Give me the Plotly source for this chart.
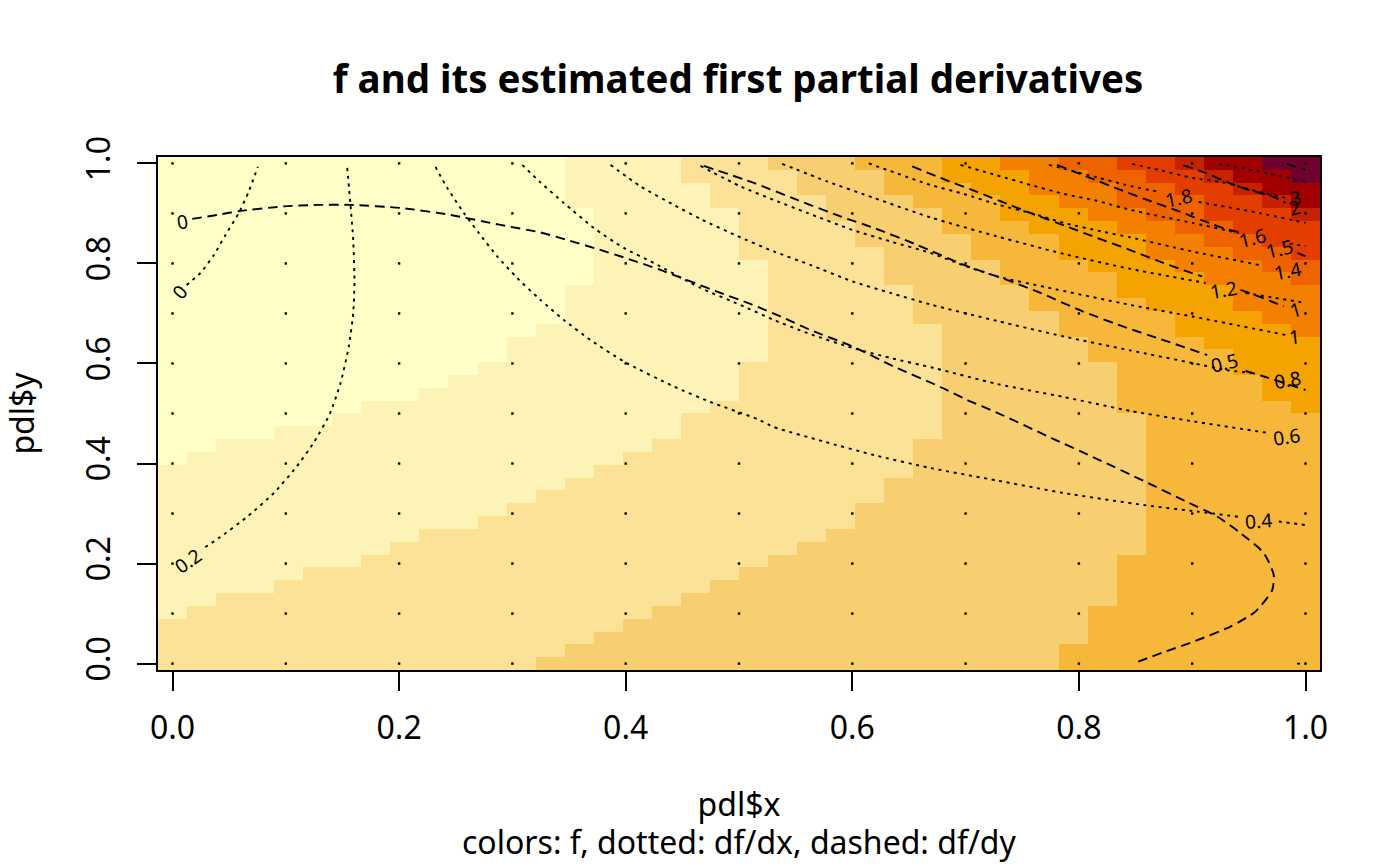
import plotly.graph_objects as go

GRID = [i / 39 for i in range(40)]
DOT_TICKS = [0.0, 0.1, 0.2, 0.3, 0.4, 0.5, 0.6, 0.7, 0.8, 0.9, 1.0]
AXIS_TICKS = [0.0, 0.2, 0.4, 0.6, 0.8, 1.0]
AXIS_LABELS = ["0.0", "0.2", "0.4", "0.6", "0.8", "1.0"]

LEVEL_COLORS = ["#FFFFC8", "#FEF3B6", "#FBE297", "#F7CE70", "#F7B73A", "#F5A300",
                "#F38000", "#EE6200", "#E43D00", "#C42200", "#A20000", "#6F0030"]

# For each column (left to right): (level of f, row where that band ends), bottom to top
F_BANDS = [
    [(3, 4), (2, 16), (1, 40)], [(3, 5), (2, 17), (1, 40)], [(3, 6), (2, 18), (1, 40)],
    [(3, 6), (2, 18), (1, 40)], [(3, 7), (2, 19), (1, 40)], [(3, 8), (2, 19), (1, 40)],
    [(3, 8), (2, 20), (1, 40)], [(3, 9), (2, 21), (1, 40)], [(3, 10), (2, 21), (1, 40)],
    [(3, 11), (2, 22), (1, 40)], [(3, 11), (2, 23), (1, 40)], [(3, 12), (2, 24), (1, 40)],
    [(3, 13), (2, 26), (1, 40)], [(4, 1), (3, 14), (2, 27), (1, 40)],
    [(4, 2), (3, 15), (2, 30), (1, 36), (2, 40)], [(4, 3), (3, 16), (2, 40)],
    [(4, 4), (3, 17), (2, 40)], [(4, 5), (3, 18), (2, 40)],
    [(4, 6), (3, 20), (2, 38), (3, 40)], [(4, 7), (3, 21), (2, 36), (3, 40)],
    [(4, 8), (3, 24), (2, 32), (3, 40)], [(4, 9), (3, 39), (4, 40)],
    [(4, 10), (3, 37), (4, 40)], [(4, 11), (3, 35), (4, 40)],
    [(4, 13), (3, 33), (4, 39), (5, 40)], [(4, 15), (3, 30), (4, 37), (5, 40)],
    [(4, 18), (3, 27), (4, 36), (5, 40)], [(4, 34), (5, 38), (6, 40)],
    [(4, 32), (5, 37), (6, 40)], [(4, 30), (5, 35), (6, 39), (7, 40)],
    [(4, 28), (5, 34), (6, 37), (7, 40)],
    [(5, 2), (4, 26), (5, 32), (6, 36), (7, 39), (8, 40)],
    [(5, 5), (4, 24), (5, 31), (6, 35), (7, 38), (8, 40)],
    [(5, 9), (4, 20), (5, 29), (6, 34), (7, 36), (8, 39), (9, 40)],
    [(5, 28), (6, 32), (7, 35), (8, 38), (9, 40)],
    [(5, 26), (6, 31), (7, 34), (8, 37), (9, 39), (10, 40)],
    [(5, 25), (6, 30), (7, 33), (8, 35), (9, 38), (10, 39), (11, 40)],
    [(5, 23), (6, 28), (7, 32), (8, 34), (9, 37), (10, 38), (11, 40)],
    [(5, 21), (6, 27), (7, 31), (8, 33), (9, 36), (10, 37), (11, 39), (12, 40)],
    [(5, 20), (6, 26), (7, 30), (8, 32), (9, 35), (10, 36), (11, 38), (12, 40)],
]

# dotted contours, df/dx
DX_A_X = [.0124, .0247, .0365, .0468, .0585, .0673, .0753]
DX_A_Y = [.757, .781, .817, .857, .901, .944, .993]
DX_B_X = [.1542, .1571, .1595, .1606, .1595, .1556, .1483, .1388, .1247, .1086, .0894, .0673, .0409, .0276]
DX_B_Y = [.991, .917, .847, .761, .701, .634, .561, .499, .442, .391, .341, .296, .251, .231]
DX_C_X = [.2321, .2425, .2571, .2703, .2866, .3042, .3248, .3454, .3689, .3983, .4425, .4748,
          .5161, .5307, .5748, .619, .669, .7279, .7867, .8573, .9044, .9426, None, .9765, 1.0]
DX_C_Y = [.993, .951, .901, .861, .814, .771, .727, .687, .647, .604, .554, .523,
          .489, .473, .444, .417, .391, .366, .341, .317, .304, .293, None, .284, .277]
DX_D_X = [.3087, .3248, .3454, .3718, .3983, .4248, .466, .5013, .5307, .5602, .6002, .6337,
          .672, .7279, .7867, .8456, .9014, .9676]
DX_D_Y = [.997, .962, .921, .871, .831, .801, .751, .717, .687, .661, .631, .611,
          .591, .559, .533, .505, .484, .461]
DX_E_X = [.3866, .4131, .4425, .466, .4984, .5307, .5631, .6002, .6337, .6705, .7279, .7867,
          .8456, .9, .9294, .953]
DX_E_Y = [.997, .954, .917, .889, .855, .824, .797, .764, .741, .717, .685, .654,
          .626, .601, .587, .581]
DX_F_X = [.466, .5013, .5307, .5602, .6002, .6337, .669, .697, .7279, .772, .8456, .9, .9824]
DX_F_Y = [.995, .954, .927, .901, .867, .844, .821, .797, .774, .752, .717, .694, .657]
DX_G_X = [.5381, .5778, .619, .669, .7279, .7867, .8456, .9118, None, .947, .9735, 1.0]
DX_G_Y = [.999, .964, .931, .892, .854, .819, .789, .761, None, .741, .731, .721]
DX_H_X = [.6146, .669, .6984, .7293, .7573, .7867, .822, .8456, .9, .9588]
DX_H_Y = [1.0, .957, .939, .917, .901, .881, .863, .852, .824, .797]
DX_I_X = [.6955, .7279, .7573, .7867, .8162, .8456, .9, .9412, None, .9794, 1.0]
DX_I_Y = [.997, .976, .957, .939, .925, .907, .881, .861, None, .843, .834]
DX_J_X = [.7735, .8162, .8412, .8703, None, .9056, .9588, 1.0]
DX_J_Y = [.997, .972, .957, .943, None, .923, .901, .881]
DX_K_X = [.847, .8705, .9, .9294, .9588, .9824]
DX_K_Y = [.999, .987, .971, .961, .943, .931]
DX_L_X = [.9235, .9588, 1.0]
DX_L_Y = [.999, .984, .963]
DX_M_X = [.9925, 1.0]
DX_M_Y = [0.0, 0.0]

# dashed contours, df/dy
DY_0_X = [.0174, .0395, .06, .0982, .1277, .1571, .2012, .2454, .2895, .3248, .3498, .3748, .3998,
          .4307, .4572, .4837, .5101, .5366, .5631, .6002, .6366, .6778, .7014, .7264, .772, .8162,
          .8573, .8956, .9221, .9426, .9632, .972, .9706, .9559, .9338, .9014, .875, .8476]
DY_0_Y = [.889, .897, .905, .914, .917, .917, .911, .897, .877, .862, .846, .829, .811,
          .787, .764, .741, .719, .694, .667, .634, .594, .553, .527, .503, .455, .409,
          .365, .323, .294, .261, .221, .177, .147, .104, .074, .044, .023, 0.0]
DY_05_X = [.4689, .5131, .5514, .5896, .619, .6573, .6984, .7367, .7661, .8014, .8426, .8691,
           .9132, None, .947, .9647, 1.0]
DY_05_Y = [.995, .961, .927, .894, .871, .837, .797, .767, .741, .706, .671, .651,
           .617, None, .585, .573, .547]
DY_1_X = [.6529, .6822, .7102, .7367, .7617, .7882, .8147, .8426, .8676, .8941, .9088, None,
          .9426, .9588, .9809]
DY_1_Y = [.994, .967, .943, .919, .897, .875, .852, .829, .807, .785, .774, None,
          .747, .734, .714]
DY_15_X = [.7808, .8087, .8367, .8603, .8897, .9147, .9294, .9441, None, .9929, 1.0]
DY_15_Y = [.997, .972, .947, .927, .903, .881, .869, .861, None, .821, .814]
DY_2_X = [.8923, .9118, .9323, .95, .9706, .9823]
DY_2_Y = [.996, .981, .961, .947, .934, .921]
DY_3_X = [.9838, 1.0]
DY_3_Y = [.999, .987]

LABEL_TEXT = ["0", "0", "0.2", "0.4", "0.6", "0.8", "0.5", "1", "1", "1.2", "1.4", "1.5", "1.6",
              "1.8", "2", "3"]
LABEL_X = [.0088, .0064, .0135, .9583, .9832, .9838, .9285, .9906, .9912, .9276, .9844, .9771,
           .9535, .8882, .9903, .9912]
LABEL_Y = [.883, .744, .207, .287, .454, .567, .601, .654, .708, .747, .786, .829,
           .851, .932, .912, .931]
LABEL_ANGLE = [-10, -50, -35, -4, -8, -10, -14, -6, -16, -10, -11, -14, -14, -12, -14, -14]

TITLE = "f and its estimated first partial derivatives"
X_TITLE = "pdl$x"
SUB_TITLE = "colors: f, dotted: df/dx, dashed: df/dy"
Y_TITLE = "pdl$y"

FONT = "Noto Sans"
TICK_SIZE = 32
DOT_DASH = "3px,4.7px"
LONG_DASH = "9.6px,5.7px"
LINE_W = 1.9

z = [[1] * 40 for _ in range(40)]
for col, bands in enumerate(F_BANDS):
    row = 0
    for level, end in bands:
        for r in range(row, end):
            z[r][col] = level
        row = end

n = len(LEVEL_COLORS) - 1
fig = go.Figure()
fig.add_trace(go.Heatmap(x=GRID, y=GRID, z=z, zmin=1, zmax=12, showscale=False, hoverinfo="skip",
                         colorscale=[[i / n, c] for i, c in enumerate(LEVEL_COLORS)]))
fig.add_trace(go.Scatter(x=[a for a in DOT_TICKS for _ in DOT_TICKS],
                         y=[b for _ in DOT_TICKS for b in DOT_TICKS], mode="markers",
                         marker=dict(symbol="square", size=2.4, color="black", line_width=0),
                         hoverinfo="skip", showlegend=False))
for xs, ys in [(DX_A_X, DX_A_Y), (DX_B_X, DX_B_Y), (DX_C_X, DX_C_Y), (DX_D_X, DX_D_Y), (DX_E_X, DX_E_Y),
               (DX_F_X, DX_F_Y), (DX_G_X, DX_G_Y), (DX_H_X, DX_H_Y), (DX_I_X, DX_I_Y), (DX_J_X, DX_J_Y),
               (DX_K_X, DX_K_Y), (DX_L_X, DX_L_Y), (DX_M_X, DX_M_Y)]:
    fig.add_trace(go.Scatter(x=xs, y=ys, mode="lines", showlegend=False, hoverinfo="skip",
                             line=dict(color="black", width=LINE_W, dash=DOT_DASH, shape="spline", smoothing=0.6)))
for xs, ys in [(DY_0_X, DY_0_Y), (DY_05_X, DY_05_Y), (DY_1_X, DY_1_Y), (DY_15_X, DY_15_Y),
               (DY_2_X, DY_2_Y), (DY_3_X, DY_3_Y)]:
    fig.add_trace(go.Scatter(x=xs, y=ys, mode="lines", showlegend=False, hoverinfo="skip",
                             line=dict(color="black", width=LINE_W, dash=LONG_DASH, shape="spline", smoothing=0.6)))

for t, x, y, a in zip(LABEL_TEXT, LABEL_X, LABEL_Y, LABEL_ANGLE):
    fig.add_annotation(x=x, y=y, xref="x", yref="y", text=t, showarrow=False, textangle=a,
                       font=dict(family=FONT, size=19.2, color="black"))
fig.add_annotation(x=0.5, y=-0.335, xref="x domain", yref="y domain", text=SUB_TITLE, showarrow=False,
                   yanchor="middle", font=dict(family=FONT, size=TICK_SIZE, color="black"))

axis = dict(range=[-0.0128, 1.0128], tickvals=AXIS_TICKS, ticktext=AXIS_LABELS, ticks="outside",
            ticklen=19, tickwidth=1.5, tickcolor="black", showline=True, linecolor="black",
            linewidth=1.5, mirror=True, showgrid=False, zeroline=False,
            tickfont=dict(family=FONT, size=TICK_SIZE, color="black"))
fig.update_layout(
    width=1400, height=866, autosize=False, plot_bgcolor="white", paper_bgcolor="white",
    margin=dict(l=157.5, r=80, t=156.7, b=195.7),
    title=dict(text=TITLE, x=738 / 1400, xanchor="center", y=1 - 80 / 866, yanchor="middle",
               font=dict(family=FONT, size=38.5, color="black", weight="bold")),
    xaxis=dict(axis, ticklabelstandoff=10,
               title=dict(text=X_TITLE, standoff=46, font=dict(family=FONT, size=TICK_SIZE, color="black"))),
    yaxis=dict(axis, tickangle=-90, ticklabelstandoff=14,
               title=dict(text=Y_TITLE, standoff=35, font=dict(family=FONT, size=TICK_SIZE, color="black"))),
)
fig.write_html("out.html", config=dict(displayModeBar=False), post_script="document.body.style.margin='0';")
